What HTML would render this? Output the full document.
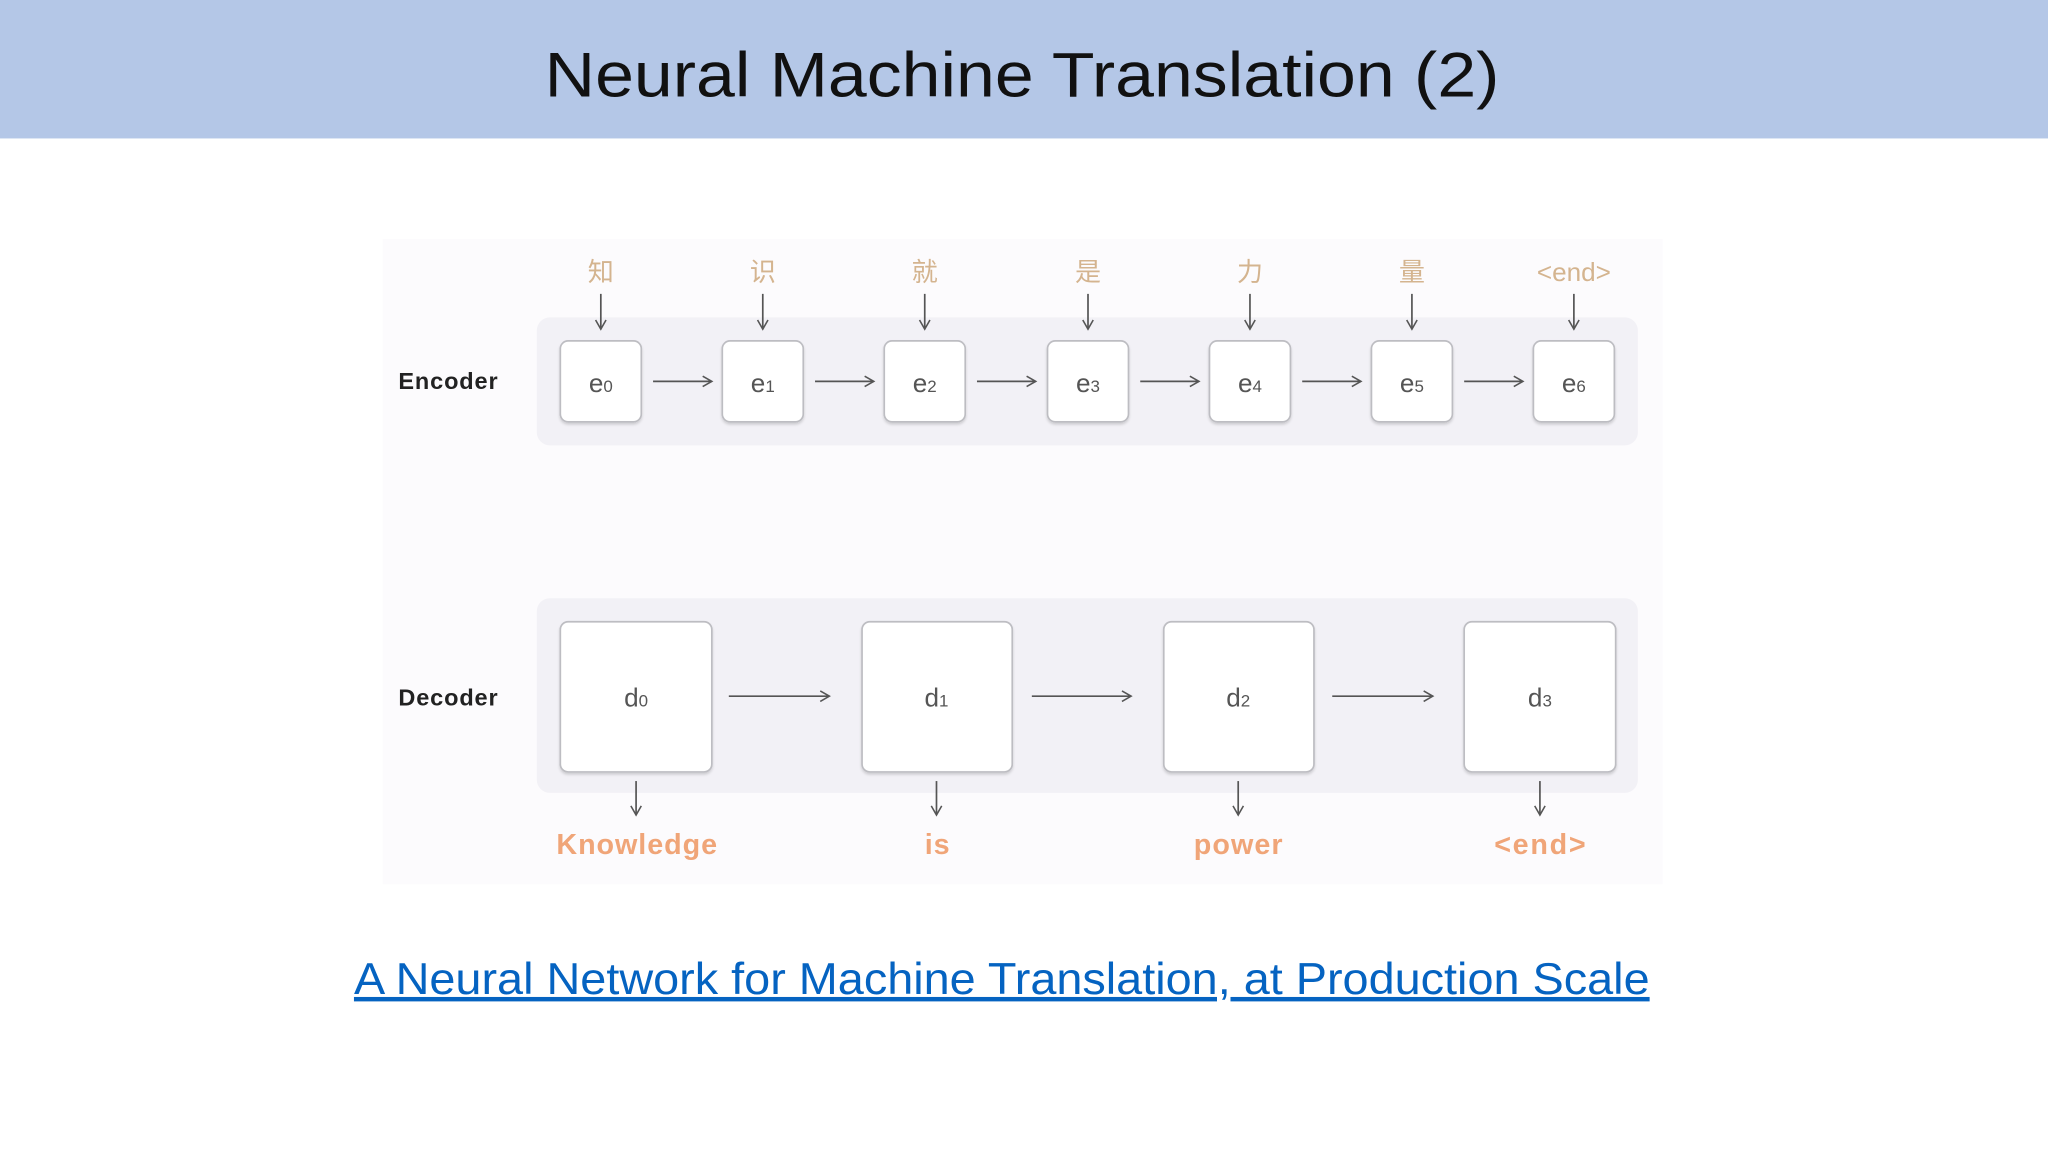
<!DOCTYPE html>
<html><head><meta charset="utf-8"><style>
html,body{margin:0;padding:0;background:#fff;}
svg{display:block}
</style></head><body>
<svg width="2048" height="1152" viewBox="0 0 1568 882" xmlns="http://www.w3.org/2000/svg">
<defs>
<marker id="ah" markerWidth="10" markerHeight="10" refX="8" refY="5" orient="auto" markerUnits="userSpaceOnUse">
<path d="M1,1 L8,5 L1,9" fill="none" stroke="#555" stroke-width="1.2"/>
</marker>
<filter id="sh" x="-10%" y="-10%" width="120%" height="130%"><feDropShadow dx="0" dy="1.5" stdDeviation="1" flood-color="#000" flood-opacity="0.15"/></filter>
</defs>
<rect x="0" y="0" width="1568" height="882" fill="#fff"/>
<rect x="0" y="0" width="1568" height="106" fill="#b4c7e7"/>
<text x="417" y="74" font-family="Liberation Sans, sans-serif" font-size="48" fill="#111" textLength="731" lengthAdjust="spacingAndGlyphs">Neural Machine Translation (2)</text>

<rect x="293" y="183" width="980" height="494" fill="#fcfbfd"/>
<rect x="411" y="243" width="843" height="98" rx="10" fill="#f2f1f6"/>
<rect x="411" y="458" width="843" height="149" rx="10" fill="#f2f1f6"/>

<text x="305" y="298" font-family="Liberation Sans, sans-serif" font-size="18" font-weight="bold" fill="#222" textLength="76">Encoder</text>
<text x="305" y="540" font-family="Liberation Sans, sans-serif" font-size="18" font-weight="bold" fill="#222" textLength="76">Decoder</text>

<g font-family="Liberation Sans, 'Noto Sans CJK SC', sans-serif" font-size="20" fill="#d4b48f" text-anchor="middle">
<text x="460" y="215">知</text><text x="584" y="215">识</text><text x="708" y="215">就</text><text x="833" y="215">是</text><text x="957" y="215">力</text><text x="1081" y="215">量</text><text x="1205" y="215">&lt;end&gt;</text>
</g>
<g stroke="#555" stroke-width="1.3" marker-end="url(#ah)">
<line x1="460" y1="225" x2="460" y2="252"/><line x1="584" y1="225" x2="584" y2="252"/><line x1="708" y1="225" x2="708" y2="252"/><line x1="833" y1="225" x2="833" y2="252"/><line x1="957" y1="225" x2="957" y2="252"/><line x1="1081" y1="225" x2="1081" y2="252"/><line x1="1205" y1="225" x2="1205" y2="252"/>
<line x1="500" y1="292" x2="545" y2="292"/><line x1="624" y1="292" x2="669" y2="292"/><line x1="748" y1="292" x2="793" y2="292"/><line x1="873" y1="292" x2="918" y2="292"/><line x1="997" y1="292" x2="1042" y2="292"/><line x1="1121" y1="292" x2="1166" y2="292"/>
<line x1="558" y1="533" x2="635" y2="533"/><line x1="790" y1="533" x2="866" y2="533"/><line x1="1020" y1="533" x2="1097" y2="533"/>
<line x1="487" y1="598" x2="487" y2="624"/><line x1="717" y1="598" x2="717" y2="624"/><line x1="948" y1="598" x2="948" y2="624"/><line x1="1179" y1="598" x2="1179" y2="624"/>
</g>
<g fill="#fff" stroke="#bdbdc2" stroke-width="1.3" filter="url(#sh)">
<rect x="429" y="261" width="62" height="62" rx="6"/><rect x="553" y="261" width="62" height="62" rx="6"/><rect x="677" y="261" width="62" height="62" rx="6"/><rect x="802" y="261" width="62" height="62" rx="6"/><rect x="926" y="261" width="62" height="62" rx="6"/><rect x="1050" y="261" width="62" height="62" rx="6"/><rect x="1174" y="261" width="62" height="62" rx="6"/>
<rect x="429" y="476" width="116" height="115" rx="6"/><rect x="660" y="476" width="115" height="115" rx="6"/><rect x="891" y="476" width="115" height="115" rx="6"/><rect x="1121" y="476" width="116" height="115" rx="6"/>
</g>
<g font-family="Liberation Sans, sans-serif" font-size="20" fill="#555" text-anchor="middle">
<text x="460" y="300">e<tspan font-size="13">0</tspan></text><text x="584" y="300">e<tspan font-size="13">1</tspan></text><text x="708" y="300">e<tspan font-size="13">2</tspan></text><text x="833" y="300">e<tspan font-size="13">3</tspan></text><text x="957" y="300">e<tspan font-size="13">4</tspan></text><text x="1081" y="300">e<tspan font-size="13">5</tspan></text><text x="1205" y="300">e<tspan font-size="13">6</tspan></text>
<text x="487" y="541">d<tspan font-size="13">0</tspan></text><text x="717" y="541">d<tspan font-size="13">1</tspan></text><text x="948" y="541">d<tspan font-size="13">2</tspan></text><text x="1179" y="541">d<tspan font-size="13">3</tspan></text>
</g>
<g font-family="Liberation Sans, sans-serif" font-size="22" font-weight="bold" fill="#f0a578">
<text x="426" y="654" textLength="123">Knowledge</text><text x="708" y="654" textLength="19">is</text><text x="914" y="654" textLength="68">power</text><text x="1144" y="654" textLength="70">&lt;end&gt;</text>
</g>

<text x="271" y="761" font-family="Liberation Sans, sans-serif" font-size="34" fill="#0563c1" text-decoration="underline" textLength="992" lengthAdjust="spacingAndGlyphs">A Neural Network for Machine Translation, at Production Scale</text>
</svg>
</body></html>
